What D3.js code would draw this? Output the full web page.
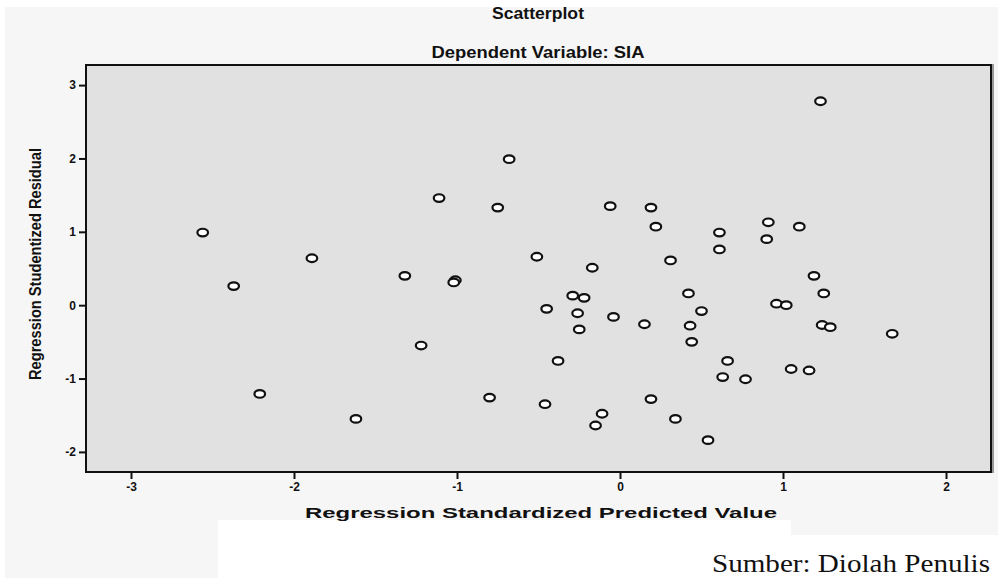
<!DOCTYPE html>
<html>
<head>
<meta charset="utf-8">
<title>Scatterplot - Dependent Variable: SIA</title>
<script src="https://cdn.jsdelivr.net/npm/d3@7"></script>
<style>
  body { margin: 0; background: #fff; }
  svg text { font-family: Arial, "Liberation Sans", sans-serif; }
</style>
</head>
<body>
<div id="chart"></div>
<script>
// predicted (x) and studentized residual (y)
var predicted = [-2.56, -2.37, -2.21, -1.89, -1.62, -1.32, -1.22, -1.11, -1.01, -1.02,
  -0.80, -0.75, -0.68, -0.51, -0.45, -0.46, -0.38, -0.29, -0.26, -0.25,
  -0.22, -0.17, -0.15, -0.11, -0.06, -0.04, 0.15, 0.19, 0.19, 0.22,
  0.31, 0.34, 0.42, 0.43, 0.44, 0.50, 0.54, 0.61, 0.61, 0.63,
  0.66, 0.77, 0.90, 0.91, 0.96, 1.02, 1.05, 1.10, 1.16, 1.19,
  1.23, 1.24, 1.25, 1.29, 1.67];
var residual = [0.99, 0.26, -1.21, 0.64, -1.55, 0.40, -0.55, 1.46, 0.34, 0.31,
  -1.26, 1.33, 1.99, 0.66, -0.05, -1.35, -0.76, 0.13, -0.11, -0.33,
  0.10, 0.51, -1.64, -1.48, 1.35, -0.16, -0.26, 1.33, -1.28, 1.07,
  0.61, -1.55, 0.16, -0.28, -0.50, -0.08, -1.84, 0.99, 0.76, -0.98,
  -0.76, -1.01, 0.90, 1.13, 0.02, 0.00, -0.87, 1.07, -0.89, 0.40,
  2.78, -0.27, 0.16, -0.30, -0.39];
var xTicks = [-3, -2, -1, 0, 1, 2];
var yTicks = [-2, -1, 0, 1, 2, 3];

var width = 998, height = 578;
var plot = { left: 86, right: 991, top: 65, bottom: 472 };

var svg = d3.select("#chart").append("svg")
  .attr("width", width).attr("height", height);

// page backgrounds
svg.append("rect").attr("x", 0).attr("y", 0).attr("width", width).attr("height", height).attr("fill", "#fff");
svg.append("rect").attr("x", 5).attr("y", 7).attr("width", width - 5).attr("height", height - 7).attr("fill", "#f6f6f6");
svg.append("rect").attr("x", 218).attr("y", 520).attr("width", 573).attr("height", 58).attr("fill", "#fff");
svg.append("rect").attr("x", 791).attr("y", 535).attr("width", 207).attr("height", 43).attr("fill", "#fff");

var x = d3.scaleLinear().domain([-3.276, 2.276]).range([plot.left, plot.right]);
var y = d3.scaleLinear().domain([-2.274, 3.274]).range([plot.bottom, plot.top]);

// plot panel
svg.append("rect").attr("x", plot.left + 2).attr("y", plot.top)
  .attr("width", plot.right - plot.left).attr("height", plot.bottom - plot.top)
  .attr("fill", "none").attr("stroke", "#999").attr("stroke-width", 2);
svg.append("rect").attr("x", plot.left).attr("y", plot.top)
  .attr("width", plot.right - plot.left).attr("height", plot.bottom - plot.top)
  .attr("fill", "#e1e1e1").attr("stroke", "#111").attr("stroke-width", 2);

// axes
var fmt = function (d) { return String(d); };
var gx = svg.append("g").attr("transform", "translate(0," + plot.bottom + ")")
  .call(d3.axisBottom(x).tickValues(xTicks).tickSize(7).tickPadding(3).tickFormat(fmt));
var gy = svg.append("g").attr("transform", "translate(" + plot.left + ",0)")
  .call(d3.axisLeft(y).tickValues(yTicks).tickSize(7).tickPadding(3).tickFormat(fmt));
[gx, gy].forEach(function (g) {
  g.select(".domain").remove();
  g.selectAll(".tick line").attr("stroke", "#111").attr("stroke-width", 2);
  g.selectAll(".tick text").attr("fill", "#111")
    .style("font-size", "12px").style("font-weight", "bold");
});

// points
svg.append("g").selectAll("ellipse")
  .data(predicted)
  .enter().append("ellipse")
  .attr("cx", function (d) { return x(d); })
  .attr("cy", function (d, i) { return y(residual[i]); })
  .attr("rx", 5.3).attr("ry", 3.8)
  .attr("fill", "#fff").attr("stroke", "#111").attr("stroke-width", 2.2);

// titles
svg.append("text").attr("x", 538).attr("y", 19).attr("text-anchor", "middle")
  .style("font-size", "17px").style("font-weight", "bold").attr("fill", "#111")
  .attr("textLength", 92).attr("lengthAdjust", "spacingAndGlyphs")
  .text("Scatterplot");
svg.append("text").attr("x", 538).attr("y", 58).attr("text-anchor", "middle")
  .style("font-size", "17px").style("font-weight", "bold").attr("fill", "#111")
  .attr("textLength", 213).attr("lengthAdjust", "spacingAndGlyphs")
  .text("Dependent Variable: SIA");
svg.append("text").attr("x", 541).attr("y", 518).attr("text-anchor", "middle")
  .style("font-size", "15px").style("font-weight", "bold").attr("fill", "#111")
  .attr("textLength", 472).attr("lengthAdjust", "spacingAndGlyphs")
  .text("Regression Standardized Predicted Value");
svg.append("text").attr("transform", "translate(41,264) rotate(-90)").attr("text-anchor", "middle")
  .style("font-size", "17px").style("font-weight", "bold").attr("fill", "#111")
  .attr("textLength", 232).attr("lengthAdjust", "spacingAndGlyphs")
  .text("Regression Studentized Residual");

// source note
svg.append("text").attr("x", 990).attr("y", 572).attr("text-anchor", "end")
  .style("font-family", "'Liberation Serif', serif").style("font-size", "25px").attr("fill", "#111")
  .attr("textLength", 278).attr("lengthAdjust", "spacingAndGlyphs")
  .text("Sumber: Diolah Penulis");
</script>
</body>
</html>
